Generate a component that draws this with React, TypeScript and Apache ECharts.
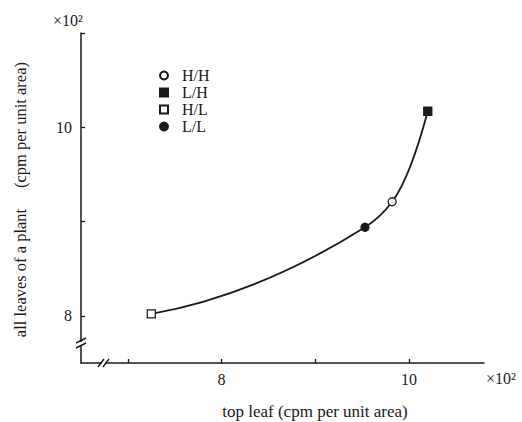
import React, { useEffect, useRef } from "react";
import * as echarts from "echarts";

const groups = ["H/H", "L/H", "H/L", "L/L"];
const topLeaf = [9.82, 10.2, 7.25, 9.53];
const allLeaves = [9.21, 10.17, 8.02, 8.94];
const xTickValues = [7, 8, 9, 10];
const xLabelValues = [8, 10];
const yTickValues = [8, 9, 10, 11];
const yLabelValues = [8, 10];

const FONT = "'Liberation Serif', 'Times New Roman', serif";
const INK = "#1a1a1a";

const styles: Record<string, { symbol: string; fill: string }> = {
  "H/H": { symbol: "circle", fill: "#ffffff" },
  "L/H": { symbol: "rect", fill: INK },
  "H/L": { symbol: "rect", fill: "#ffffff" },
  "L/L": { symbol: "circle", fill: INK },
};

export default function App() {
  const ref = useRef<HTMLDivElement>(null);
  useEffect(() => {
    document.body.style.margin = "0";
    if (!ref.current) return;
    const chart = echarts.init(ref.current, null, { renderer: "svg" });
    const pts = topLeaf.map((x, i) => [x, allLeaves[i]]).sort((a, b) => a[0] - b[0]);

    // monotone cubic Hermite curve through the data, drawn segment by segment
    const renderCurve = (params: any, api: any) => {
      const i = params.dataIndex;
      const n = pts.length;
      if (i >= n - 1) return null;
      const P = pts.map((p) => api.coord(p));
      const h: number[] = [];
      const d: number[] = [];
      for (let k = 0; k < n - 1; k++) {
        h.push(P[k + 1][0] - P[k][0]);
        d.push((P[k + 1][1] - P[k][1]) / h[k]);
      }
      const m: number[] = new Array(n).fill(0);
      for (let k = 1; k < n - 1; k++) {
        const w1 = 2 * h[k] + h[k - 1];
        const w2 = h[k] + 2 * h[k - 1];
        m[k] = (w1 + w2) / (w1 / d[k - 1] + w2 / d[k]);
      }
      m[0] = 2 * d[0] - m[1];
      m[n - 1] = 2 * d[n - 2] - m[n - 2];
      const a = P[i];
      const b = P[i + 1];
      const t = h[i] / 3;
      return {
        type: "bezierCurve",
        shape: {
          x1: a[0],
          y1: a[1],
          cpx1: a[0] + t,
          cpy1: a[1] + t * m[i],
          cpx2: b[0] - t,
          cpy2: b[1] - t * m[i + 1],
          x2: b[0],
          y2: b[1],
        },
        style: { stroke: INK, lineWidth: 1.8, fill: "none" },
      };
    };

    const scatter = groups.map((g, i) => ({
      name: g,
      type: "scatter",
      symbol: styles[g].symbol,
      symbolSize: 8,
      z: 5,
      itemStyle: { color: styles[g].fill, borderColor: INK, borderWidth: 1.3, opacity: 1 },
      data: [[topLeaf[i], allLeaves[i]]],
    }));
    const slash = (x1: number, y1: number, x2: number, y2: number) => ({
      type: "line",
      z: 100,
      shape: { x1, y1, x2, y2 },
      style: { stroke: INK, lineWidth: 1.4 },
    });
    chart.setOption({
      animation: false,
      backgroundColor: "#ffffff",
      textStyle: { fontFamily: FONT },
      grid: { left: 81, top: 33, right: 38, bottom: 59 },
      legend: {
        orient: "vertical",
        left: 154,
        top: 62,
        padding: 5,
        itemWidth: 8,
        itemHeight: 8,
        itemGap: 0,
        data: groups,
        textStyle: { fontFamily: FONT, fontSize: 16, lineHeight: 17, color: INK, padding: [0, 0, 0, 9] },
      },
      xAxis: {
        type: "value",
        min: 6.5,
        max: 10.8,
        splitLine: { show: false },
        axisLine: { lineStyle: { color: INK, width: 1.5 } },
        axisTick: { inside: true, length: 4, customValues: xTickValues, lineStyle: { color: INK, width: 1.3 } },
        axisLabel: { customValues: xLabelValues, margin: 8, fontFamily: FONT, fontSize: 16, color: INK },
      },
      yAxis: {
        type: "value",
        min: 7.5,
        max: 11,
        splitLine: { show: false },
        axisLine: { show: true, lineStyle: { color: INK, width: 1.5 } },
        axisTick: { show: true, inside: true, length: 4, customValues: yTickValues, lineStyle: { color: INK, width: 1.3 } },
        axisLabel: { customValues: yLabelValues, margin: 9, fontFamily: FONT, fontSize: 16, color: INK },
      },
      graphic: [
        { type: "rect", z: 99, shape: { x: 77, y: 342, width: 8, height: 3 }, style: { fill: "#fff" } },
        slash(76, 343, 86, 338),
        slash(76, 348, 86, 343),
        { type: "rect", z: 99, shape: { x: 102, y: 359, width: 3, height: 8 }, style: { fill: "#fff" } },
        slash(98, 367, 104, 359),
        slash(103, 367, 109, 359),
        {
          type: "text", z: 100, x: 53, y: 20,
          style: { text: "×10²", fontFamily: FONT, fontSize: 16, fill: INK, verticalAlign: "middle" },
        },
        {
          type: "text", z: 100, x: 486, y: 378,
          style: { text: "×10²", fontFamily: FONT, fontSize: 16, fill: INK, verticalAlign: "middle" },
        },
        {
          type: "text", z: 100, x: 315, y: 411,
          style: { text: "top leaf (cpm per unit area)", fontFamily: FONT, fontSize: 17, fill: INK, align: "center", verticalAlign: "middle" },
        },
        {
          type: "text", z: 100, x: 20, y: 273, rotation: Math.PI / 2,
          style: { text: "all leaves of a plant", fontFamily: FONT, fontSize: 16.5, fill: INK, align: "center", verticalAlign: "middle" },
        },
        {
          type: "text", z: 100, x: 20, y: 125, rotation: Math.PI / 2,
          style: { text: "(cpm per unit area)", fontFamily: FONT, fontSize: 16.5, fill: INK, align: "center", verticalAlign: "middle" },
        },
      ],
      series: [
        {
          name: "curve",
          type: "custom",
          renderItem: renderCurve,
          data: pts,
          encode: { x: 0, y: 1 },
          silent: true,
          z: 2,
        },
        ...scatter,
      ],
    });
    return () => chart.dispose();
  }, []);
  return <div ref={ref} style={{ width: 522, height: 422 }} />;
}
